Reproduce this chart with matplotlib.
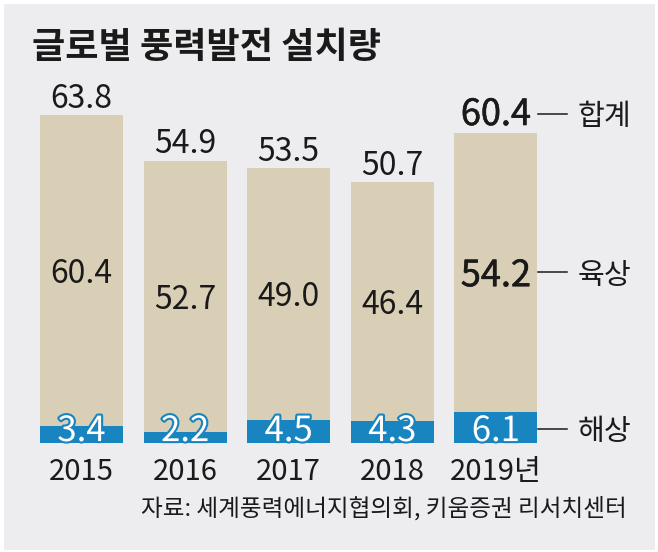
import matplotlib
matplotlib.use("Agg")
import matplotlib.pyplot as plt
import matplotlib.patheffects as pe
from matplotlib.patches import Rectangle

# data
years = ["2015", "2016", "2017", "2018", "2019년"]
offshore = [3.4, 2.2, 4.5, 4.3, 6.1]
onshore = [60.4, 52.7, 49.0, 46.4, 54.2]
totals = [63.8, 54.9, 53.5, 50.7, 60.4]
series_labels = ["합계", "육상", "해상"]
title = "글로벌 풍력발전 설치량"
source = "자료: 세계풍력에너지협의회, 키움증권 리서치센터"

BG = "#EDEDF0"
BEIGE = "#D9CFB6"
BLUE = "#1884C0"
INK = "#1A1A1A"

KR = "Noto Sans CJK KR"
plt.rcParams["font.family"] = [KR, "DejaVu Sans"]

W, H = 658, 552
fig = plt.figure(figsize=(W / 100, H / 100), dpi=100, facecolor="white")
fig.patches.append(Rectangle((4 / W, 2 / H), 651 / W, 546 / H, transform=fig.transFigure,
                             facecolor=BG, edgecolor="none", zorder=-10))

ax = fig.add_axes([29.7 / W, 109 / H, 518 / W, 339.6 / H])
ax.set_xlim(-0.5, 4.5)
ax.set_ylim(0, 66)
ax.axis("off")

x = list(range(len(years)))
ax.bar(x, offshore, width=0.8, color=BLUE)
ax.bar(x, onshore, width=0.8, bottom=offshore, color=BEIGE)

# slightly heavier look for the latest year
heavy = [pe.Stroke(linewidth=0.4, foreground=INK), pe.Normal()]

for i in x:
    last = i == len(x) - 1
    size = 26 if last else 23
    a = ax.text(i, totals[i] + 1.4, f"{totals[i]:.1f}", ha="center", va="baseline",
                fontsize=size, color=INK)
    mid = offshore[i] + onshore[i] / 2
    b = ax.text(i, mid, f"{onshore[i]:.1f}", ha="center", va="center_baseline",
                fontsize=size, color=INK)
    if last:
        a.set_path_effects(heavy)
        b.set_path_effects(heavy)
    t = ax.text(i, 3.0, f"{offshore[i]:.1f}", ha="center", va="center_baseline",
                fontsize=25, color="white")
    t.set_path_effects([pe.Stroke(linewidth=3, foreground=BLUE), pe.Normal()])
    ax.text(i, -7.2, years[i], ha="center", va="baseline", fontsize=21, color=INK,
            clip_on=False)

# right side series labels
last = len(x) - 1
ys = [totals[last] + 3.6, offshore[last] + onshore[last] / 2, 2.8]
for y, lab in zip(ys, series_labels):
    ax.plot([4.41, 4.69], [y, y], color=INK, lw=1.1, clip_on=False)
    ax.text(4.79, y, lab, ha="left", va="center_baseline", fontsize=21,
            color=INK, clip_on=False)

fig.text(32 / W, 1 - 58 / H, title, ha="left", va="baseline", fontsize=26,
         fontweight="bold", color=INK)
fig.text(627 / W, 1 - 516 / H, source, ha="right", va="baseline", fontsize=17,
         color=INK)

fig.savefig("out.png", dpi=100, facecolor=fig.get_facecolor())
